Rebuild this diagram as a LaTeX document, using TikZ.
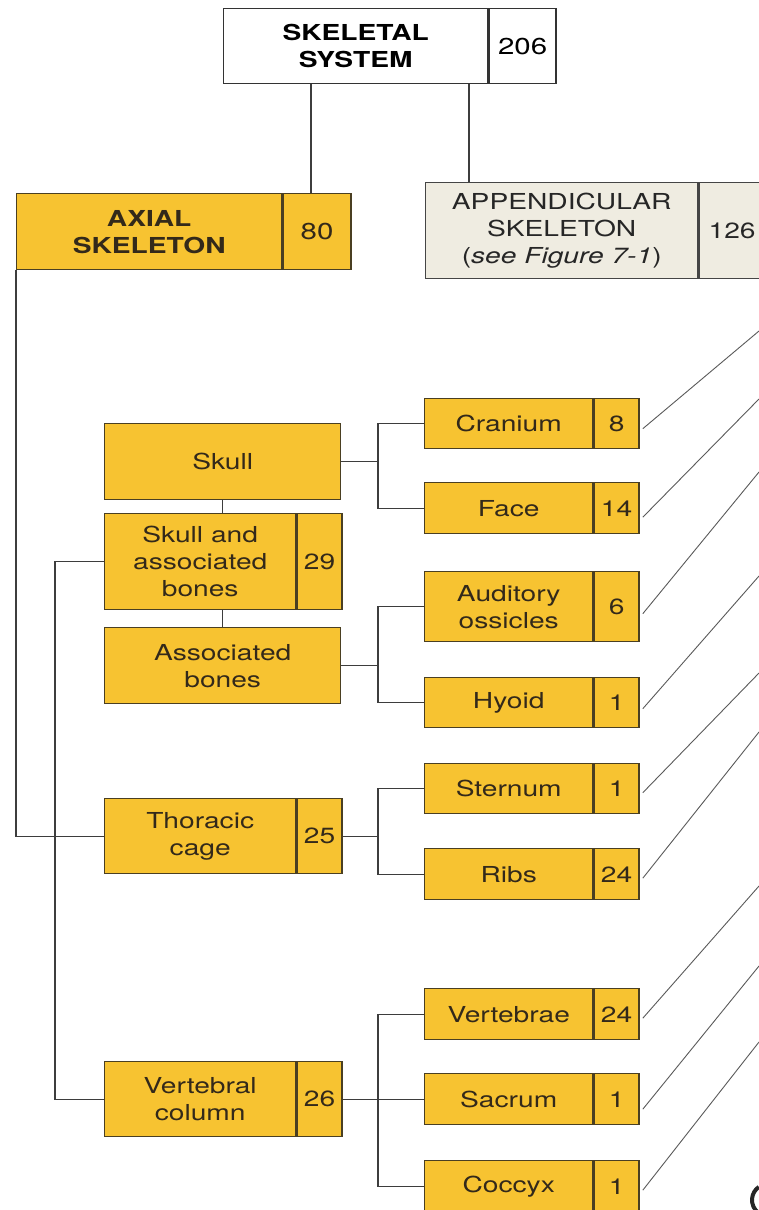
\documentclass[tikz,border=0pt]{standalone}
\usepackage{fontspec}
\setmainfont[FakeStretch=1.28]{TeX Gyre Heros}
\usetikzlibrary{calc}
\definecolor{gold}{HTML}{F7C331}
\definecolor{boxline}{HTML}{4A3F22}
\definecolor{txt}{HTML}{33291A}
\definecolor{appfill}{HTML}{EFECE1}
\definecolor{appline}{HTML}{454545}
\definecolor{connc}{HTML}{3D3D3D}
\definecolor{rayc}{HTML}{5A5A5A}
\tikzset{
  base/.style={line width=1.4pt, inner sep=0pt, align=center, anchor=north west,
    font=\fontsize{22}{27}\selectfont},
  gbox/.style={base, fill=gold, draw=boxline, text=txt},
  abox/.style={base, fill=appfill, draw=appline, text=black!85},
  wbox/.style={base, fill=white, draw=black!80, text=black},
  conn/.style={draw=connc, line width=1.4pt},
  ray/.style={draw=rayc, line width=0.9pt},
  numw/.style={minimum width=45pt},
  lblw/.style={minimum width=168pt},
}
\begin{document}
\begin{tikzpicture}[x=1pt,y=-1pt]
\useasboundingbox (0,0) rectangle (758,1210);
\fill[white] (0,0) rectangle (758,1210);

% top level
\node[wbox, minimum width=264pt, minimum height=75pt] (sysL) at (223,8) {\bfseries SKELETAL\\\bfseries SYSTEM};
\node[wbox, minimum width=67pt, minimum height=75pt, font=\fontsize{23}{27}\selectfont] (sysN) at (sysL.north east) {206};

\node[gbox, minimum width=265pt, minimum height=76pt] (axL) at (16,193) {\bfseries AXIAL\\\bfseries SKELETON};
\node[gbox, minimum width=68pt, minimum height=76pt, font=\fontsize{23}{27}\selectfont] (axN) at (axL.north east) {80};

\node[abox, minimum width=272pt, minimum height=96pt] (appL) at (425,182) {APPENDICULAR\\SKELETON\\(\textit{see Figure 7-1})};
\node[abox, minimum width=66pt, minimum height=96pt] (appN) at (appL.north east) {126};

% left column
\node[gbox, minimum width=236pt, minimum height=76pt] (skull) at (104,423) {Skull};
\node[gbox, minimum width=191pt, minimum height=96pt] (sabL) at (104,513) {Skull and\\associated\\bones};
\node[gbox, numw, minimum height=96pt] (sabN) at (sabL.north east) {29};
\node[gbox, minimum width=236pt, minimum height=76pt] (assoc) at (104,627) {Associated\\bones};
\node[gbox, minimum width=191pt, minimum height=75pt] (thorL) at (104,798) {Thoracic\\cage};
\node[gbox, numw, minimum height=75pt] (thorN) at (thorL.north east) {25};
\node[gbox, minimum width=191pt, minimum height=75pt] (vcL) at (104,1061) {Vertebral\\column};
\node[gbox, numw, minimum height=75pt] (vcN) at (vcL.north east) {26};

% right column
\node[gbox, lblw, minimum height=50pt] (cranL) at (424,398) {Cranium};
\node[gbox, numw, minimum height=50pt] (cranN) at (cranL.north east) {8};
\node[gbox, lblw, minimum height=51pt] (faceL) at (424,482) {Face};
\node[gbox, numw, minimum height=51pt] (faceN) at (faceL.north east) {14};
\node[gbox, lblw, minimum height=70pt] (audL) at (424,571) {Auditory\\ossicles};
\node[gbox, numw, minimum height=70pt] (audN) at (audL.north east) {6};
\node[gbox, lblw, minimum height=50pt] (hyoL) at (424,677) {Hyoid};
\node[gbox, numw, minimum height=50pt] (hyoN) at (hyoL.north east) {1};
\node[gbox, lblw, minimum height=50pt] (steL) at (424,763) {Sternum};
\node[gbox, numw, minimum height=50pt] (steN) at (steL.north east) {1};
\node[gbox, lblw, minimum height=51pt] (ribL) at (424,848) {Ribs};
\node[gbox, numw, minimum height=51pt] (ribN) at (ribL.north east) {24};
\node[gbox, lblw, minimum height=51pt] (vtbL) at (424,988) {Vertebrae};
\node[gbox, numw, minimum height=51pt] (vtbN) at (vtbL.north east) {24};
\node[gbox, lblw, minimum height=51pt] (sacL) at (424,1073) {Sacrum};
\node[gbox, numw, minimum height=51pt] (sacN) at (sacL.north east) {1};
\node[gbox, lblw, minimum height=51pt] (cocL) at (424,1160) {Coccyx};
\node[gbox, numw, minimum height=51pt] (cocN) at (cocL.north east) {1};

% connectors
\draw[conn] (311,0 |- sysL.south) -- (311,0 |- axN.north);
\draw[conn] (469,0 |- sysL.south) -- (469,0 |- appL.north);
\draw[conn] (axL.south west) -- (axL.south west |- thorL.west) -- (thorL.west);
\draw[conn] (sabL.west) -- ++(-49,0) |- (vcL.west);
\draw[conn] (skull.south) -- (skull.south |- sabL.north);
\draw[conn] (skull.south |- sabL.south) -- (skull.south |- assoc.north);

\coordinate (bx) at (378,0);
\draw[conn] (skull.east) -- (bx |- skull.east);
\draw[conn] (cranL.west) -- (bx |- cranL.west) -- (bx |- faceL.west) -- (faceL.west);
\draw[conn] (assoc.east) -- (bx |- assoc.east);
\draw[conn] (audL.west) -- (bx |- audL.west) -- (bx |- hyoL.west) -- (hyoL.west);
\draw[conn] (thorN.east) -- (bx |- thorN.east);
\draw[conn] (steL.west) -- (bx |- steL.west) -- (bx |- ribL.west) -- (ribL.west);
\draw[conn] (vcN.east) -- (sacL.west);
\draw[conn] (vtbL.west) -- (bx |- vtbL.west) -- (bx |- cocL.west) -- (cocL.west);

% rays leaving to the right
\coordinate (e1) at (759,331);
\coordinate (e2) at (759,399);
\coordinate (e3) at (759,472);
\coordinate (e4) at (759,576);
\coordinate (e5) at (759,673);
\coordinate (e6) at (759,732);
\coordinate (e7) at (759,886);
\coordinate (e8) at (759,966);
\coordinate (e9) at (759,1042);
\draw[ray] ($(cranN.east)+(3,5)$) -- (e1);
\draw[ray] ($(faceN.east)+(3,9)$) -- (e2);
\draw[ray] ($(audN.east)+(3,7)$) -- (e3);
\draw[ray] ($(hyoN.east)+(3,6)$) -- (e4);
\draw[ray] ($(steN.east)+(3,4)$) -- (e5);
\draw[ray] ($(ribN.east)+(3,4)$) -- (e6);
\draw[ray] ($(vtbN.east)+(3,4)$) -- (e7);
\draw[ray] ($(sacN.east)+(3,10)$) -- (e8);
\draw[ray] ($(cocN.east)+(3,4)$) -- (e9);

% clipped glyph fragment at the lower right edge
\draw[line width=4pt, black!85] (768,1200) ++(125:16) arc[start angle=125, end angle=235, radius=16];
\end{tikzpicture}
\end{document}
